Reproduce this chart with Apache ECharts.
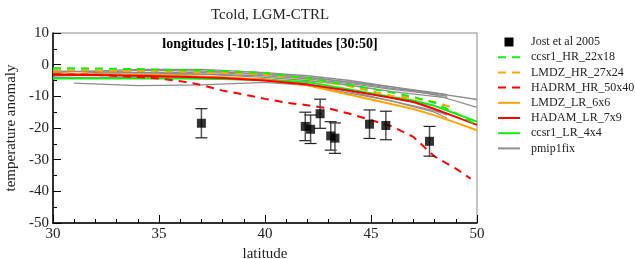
<!DOCTYPE html>
<html>
<head>
<meta charset="utf-8">
<script src="https://cdn.jsdelivr.net/npm/echarts@6/dist/echarts.min.js"></script>
<style>
  html, body { margin: 0; padding: 0; background: #fff; }
  #grafica { width: 635px; height: 259px; }
</style>
</head>
<body>
<div id="grafica"></div>
<script>
// Jost et al 2005 reconstructions
const jostLat = [37.0, 41.9, 42.15, 42.6, 43.1, 43.3, 44.93, 45.7, 47.76];
const jostVal = [-18.5, -19.5, -20.4, -15.5, -22.5, -23.2, -18.8, -19.2, -24.2];
const jostErr = [4.6, 4.5, 4.5, 4.6, 4.5, 4.8, 4.5, 4.5, 4.7];

// model lines
const latGrid = [30, 32, 34, 36, 38, 40, 42, 44, 46, 47, 48, 49, 50];
const ccsrHR = [-1.1, -1.2, -1.4, -1.7, -2, -2.6, -4.3, -6.4, -8.8, -10.2, -12, -15.3, -19];
const lmdzHR = [-1.8, -1.8, -2, -2.2, -2.6, -3.2, -4.5, -6.8, -9.9, -10.5, -11.8, -13.8, null];
const lmdzLR = [-2.8, -3, -3.2, -3.5, -4, -4.8, -6.5, -9.5, -12.5, -14, -16, -18.3, -20.7];
const hadamLR = [-3.2, -3.3, -3.5, -3.8, -4.2, -5, -6.3, -8.2, -10.5, -11.8, -14, -16.5, -19];
const ccsrLR = [-4.4, -4.4, -4.4, -4.4, -4.5, -4.8, -5.5, -7.8, -10.2, -11.3, -13, -15.5, -18];

const hadrmLat = [30, 32, 34, 35, 36, 37, 38, 39, 40, 41, 42, 43, 44, 45, 46, 47, 48, 49, 49.7];
const hadrmHR = [-3, -3.2, -3.9, -4.4, -5.2, -6.4, -8.2, -9.4, -10.8, -12, -12.8, -13.8, -15.5, -17.5, -19.5, -22.8, -29, -32.8, -36];

const pmipLat = [30, 31, 34, 37, 40, 42, 44, 46, 48, 48.6, 50];
const pmip = [
  [-2.5, -2.2, -1.5, -1.5, -2.5, -3.5, -5, -7, -9.5, null, -13.5],
  [-3, -3, -2.5, -2.5, -3, -4, -5.5, -7, -8.8, -9.5, null],
  [-3.5, -3.4, -3, -3, -3.5, -4.5, -6, -7.8, -9.3, -10, null],
  [-2, -2.1, -2.5, -3, -4, -5, -6.5, -8.5, -10, -10.5, null],
  [-3, -3.1, -3.5, -4, -4.5, -6, -8.5, -11.5, -15, -17, null],
  [-4, -4, -4, -4.3, -5, -6.5, -9, -11.5, -14.5, -15.9, null],
  [null, -5.8, -6.6, -6.4, -5.6, -6.5, -8, -10.5, -13, -14.5, null],
  [-3, -2.8, -1.8, -2, -3, -4, -5.5, -7.5, -9, null, -11]
];

const serif = "'Liberation Serif', 'Times New Roman', serif";

function pairs(xs, ys) {
  return xs.map((x, i) => [x, ys[i]]);
}

function modelLine(name, xs, ys, color, dashed) {
  return {
    name: name,
    type: "line",
    data: pairs(xs, ys),
    symbol: "none",
    connectNulls: true,
    lineStyle: { color: color, width: 2, type: dashed ? [8, 6] : "solid" },
    itemStyle: { color: color },
    z: 3
  };
}

const series = [];

// pmip1fix first so the others draw on top
pmip.forEach((row) => {
  series.push({
    name: "pmip1fix",
    type: "line",
    data: pairs(pmipLat, row),
    symbol: "none",
    connectNulls: true,
    lineStyle: { color: "#8c8c8c", width: 1.3 },
    itemStyle: { color: "#8c8c8c" },
    z: 2
  });
});

series.push(modelLine("ccsr1_LR_4x4", latGrid, ccsrLR, "#11ee11", false));
series.push(modelLine("LMDZ_LR_6x6", latGrid, lmdzLR, "#ffa500", false));
series.push(modelLine("HADAM_LR_7x9", latGrid, hadamLR, "#ff0000", false));
series.push(modelLine("HADRM_HR_50x40", hadrmLat, hadrmHR, "#ff0000", true));
series.push(modelLine("LMDZ_HR_27x24", latGrid, lmdzHR, "#ffa500", true));
series.push(modelLine("ccsr1_HR_22x18", latGrid, ccsrHR, "#11ee11", true));

// error bars
series.push({
  type: "custom",
  name: "errbar",
  data: jostLat.map((x, i) => [x, jostVal[i] - jostErr[i], jostVal[i] + jostErr[i]]),
  renderItem: (params, api) => {
    const lo = api.coord([api.value(0), api.value(1)]);
    const hi = api.coord([api.value(0), api.value(2)]);
    const w = 6;
    return {
      type: "group",
      children: [
        { type: "line", shape: { x1: lo[0], y1: lo[1], x2: hi[0], y2: hi[1] }, style: { stroke: "#555", lineWidth: 1.5 } },
        { type: "line", shape: { x1: lo[0] - w, y1: lo[1], x2: lo[0] + w, y2: lo[1] }, style: { stroke: "#222", lineWidth: 1.2 } },
        { type: "line", shape: { x1: hi[0] - w, y1: hi[1], x2: hi[0] + w, y2: hi[1] }, style: { stroke: "#222", lineWidth: 1.2 } }
      ]
    };
  },
  z: 4,
  silent: true
});

series.push({
  name: "Jost et al 2005",
  type: "scatter",
  data: pairs(jostLat, jostVal),
  symbol: "rect",
  symbolSize: 9,
  itemStyle: { color: "#000" },
  z: 5
});

const option = {
  animation: false,
  backgroundColor: "#fff",
  textStyle: { fontFamily: serif },
  title: [
    {
      text: "Tcold, LGM-CTRL",
      left: 265,
      top: 3,
      textAlign: "center",
      textStyle: { fontFamily: serif, fontSize: 15, fontWeight: "normal", color: "#222" }
    },
    {
      text: "longitudes [-10:15], latitudes [30:50]",
      left: 265,
      top: 32,
      textAlign: "center",
      textStyle: { fontFamily: serif, fontSize: 14, fontWeight: "bold", color: "#000" }
    }
  ],
  legend: {
    orient: "vertical",
    left: 497,
    top: 36,
    padding: 0,
    itemWidth: 22,
    itemHeight: 9,
    itemGap: 3.2,
    itemStyle: { opacity: 0 },
    textStyle: { fontFamily: serif, fontSize: 12, color: "#222", lineHeight: 12, padding: [0, 0, 0, 6] },
    data: [
      { name: "Jost et al 2005", icon: "path://M0,0h10v10h-10z", itemStyle: { opacity: 1, color: "#000" } },
      "ccsr1_HR_22x18",
      "LMDZ_HR_27x24",
      "HADRM_HR_50x40",
      "LMDZ_LR_6x6",
      "HADAM_LR_7x9",
      "ccsr1_LR_4x4",
      "pmip1fix"
    ]
  },
  grid: {
    left: 53,
    right: 158,
    top: 33,
    bottom: 36,
    outerBoundsMode: "none",
    show: true,
    borderColor: "#888",
    borderWidth: 1
  },
  xAxis: {
    type: "value",
    min: 30,
    max: 50,
    interval: 5,
    name: "latitude",
    nameLocation: "middle",
    nameGap: 18,
    nameTextStyle: { fontFamily: serif, fontSize: 15, color: "#222" },
    axisLine: { onZero: false, lineStyle: { color: "#000", width: 1.5 } },
    axisTick: { inside: true, length: 8, lineStyle: { color: "#000" } },
    minorTick: { show: true, splitNumber: 5, length: 4, lineStyle: { color: "#000" } },
    axisLabel: { fontFamily: serif, fontSize: 15, color: "#222", margin: 4 },
    splitLine: { show: false }
  },
  yAxis: {
    type: "value",
    min: -50,
    max: 10,
    interval: 10,
    name: "temperature anomaly",
    nameLocation: "middle",
    nameGap: 30,
    nameTextStyle: { fontFamily: serif, fontSize: 15, color: "#222" },
    axisLine: { onZero: false, lineStyle: { color: "#000", width: 1.5 } },
    axisTick: { inside: true, length: 8, lineStyle: { color: "#000" } },
    minorTick: { show: true, splitNumber: 2, length: 4, lineStyle: { color: "#000" } },
    axisLabel: { fontFamily: serif, fontSize: 15, color: "#222", margin: 4 },
    splitLine: { show: false }
  },
  series: series
};

const myChart = echarts.init(document.getElementById("grafica"));
myChart.setOption(option);
</script>
</body>
</html>
